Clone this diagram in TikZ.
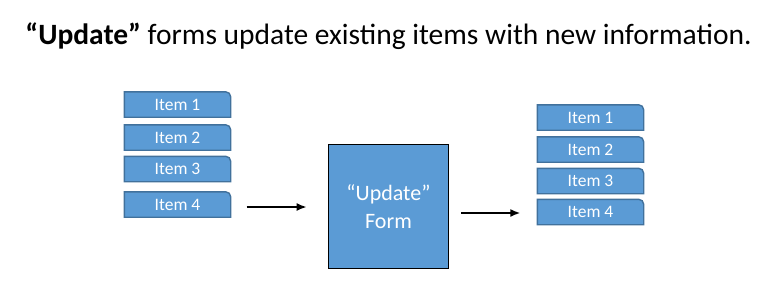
\documentclass[tikz,border=0pt]{standalone}
\usepackage{fontspec}
\setmainfont{Carlito}
\usetikzlibrary{arrows.meta,positioning,backgrounds}

\definecolor{itemfill}{HTML}{5B9BD5}
\definecolor{itemedge}{HTML}{41719C}

\begin{document}
\begin{tikzpicture}[
  x=1pt, y=-1pt,
  >=Latex,
  line/.style={draw=black, line width=1.6pt, -{Latex[length=10pt, width=8pt]}},
  item/.style={text=white, inner sep=0pt, minimum width=106pt,
    minimum height=25pt, font=\fontsize{17.5}{20}\selectfont},
  itemshape/.style={fill=itemfill, draw=itemedge, line width=1.4pt},
  form/.style={fill=itemfill, draw=black, line width=1.8pt, text=white, inner sep=0pt,
    minimum width=120pt, minimum height=124pt, align=center,
    font=\fontsize{22}{28}\selectfont},
  title/.style={anchor=base, inner sep=0pt, font=\fontsize{29.5}{34}\selectfont}
]
\useasboundingbox (0,0) rectangle (778,292);

\node[title] (heading) at (388.5,44) {\textbf{“Update”} forms update existing items with new information.};

% items going in
\node[item] (in1) at (177.5,104.5) {Item 1};
\node[item] (in2) at (177.5,137.5) {Item 2};
\node[item] (in3) at (177.5,169) {Item 3};
\node[item] (in4) at (177.5,204.5) {Item 4};

\node[form] (form) at (388.5,206.5) {“Update”\\Form};

% items coming out
\node[item] (out1) at (590.5,117.5) {Item 1};
\node[item] (out2) at (590.5,149.5) {Item 2};
\node[item] (out3) at (590.5,181) {Item 3};
\node[item] (out4) at (590.5,212) {Item 4};

% item boxes, only the top right corner rounded
\begin{scope}[on background layer]
\foreach \n in {in1,in2,in3,in4,out1,out2,out3,out4}
  \path[itemshape] (\n.south west) -- (\n.north west)
    [rounded corners=5pt] -- (\n.north east) [sharp corners] -- (\n.south east) -- cycle;
\end{scope}

\draw[line, shorten <=16pt, shorten >=21pt] ([yshift=-2.5pt]in4.east) -- ([yshift=-2.5pt]in4.east -| form.west);
\draw[line, shorten <=12pt, shorten >=17pt] ([yshift=-1pt]out4.west -| form.east) -- ([yshift=-1pt]out4.west);
\end{tikzpicture}
\end{document}
